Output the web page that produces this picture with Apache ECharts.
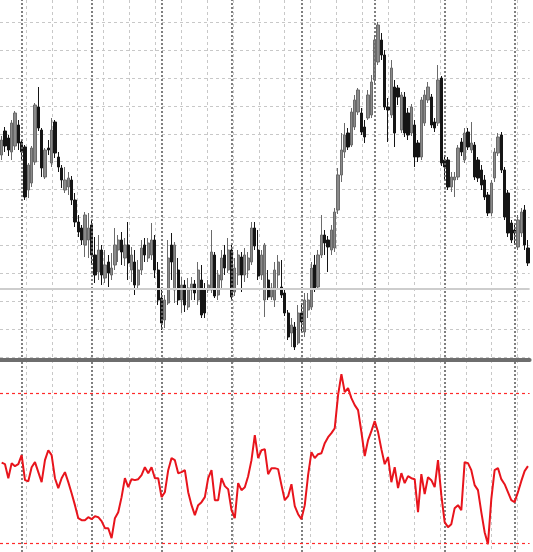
<!DOCTYPE html>
<html><head><meta charset="utf-8">
<script src="https://cdn.jsdelivr.net/npm/echarts@6/dist/echarts.min.js"></script>
<style>html,body{margin:0;padding:0;background:#fff;overflow:hidden}#c{width:533px;height:552px}</style>
</head><body><div id="c"></div>
<script>
// price panel (OHLC per bar)
const open=[202,226,219,205,211,232,215,210,167,174,
195,250,227,180,209,194,235,200,189,167,
170,177,157,135,129,112,117,132,102,85,
107,79,95,82,92,107,117,99,112,87,
95,72,87,112,99,102,117,87,59,37,
54,112,67,87,57,72,50,67,73,57,
77,67,67,67,102,62,77,102,87,107,
65,82,100,82,87,95,129,107,82,57,
77,60,57,82,70,64,44,24,30,14,
44,25,47,50,92,70,102,122,117,107,
109,147,182,205,224,212,230,245,244,230,
239,242,277,295,317,302,250,242,270,269,
227,260,244,224,232,214,200,234,257,260,
235,234,279,197,197,170,177,180,215,197,
225,207,212,197,187,177,162,144,179,204,
222,187,164,134,127,110,124,147,109];
const close=[217,211,207,234,244,214,205,160,192,209,
252,229,189,207,207,227,204,190,177,177,
179,157,135,125,117,142,129,102,82,107,
82,92,84,89,112,117,105,112,94,102,
72,87,109,102,114,117,87,57,34,57,
99,95,112,57,72,52,69,73,64,87,
42,44,72,105,61,82,99,89,107,60,
89,102,82,102,99,129,111,81,102,112,
60,69,87,95,62,44,20,32,10,44,
35,57,57,89,69,102,122,114,110,127,
145,182,207,222,210,245,257,267,225,220,
262,275,317,332,302,250,247,289,224,260,
262,224,222,250,200,200,257,262,270,232,
229,277,194,190,170,180,180,209,205,224,
210,214,180,179,172,160,144,174,205,220,
187,140,124,117,124,137,145,112,94];
const low=[197,205,201,197,207,207,197,157,159,170,
192,226,180,178,202,190,199,185,169,164,
162,152,130,120,112,100,99,92,74,77,
72,74,70,77,87,95,92,91,77,75,
62,67,82,95,95,97,79,52,27,29,
52,77,54,52,44,45,47,57,57,52,
39,39,64,64,59,57,67,82,84,57,
61,72,65,75,79,92,107,77,77,40,
57,57,50,67,59,41,17,10,7,12,
25,20,39,47,65,67,99,102,85,102,
105,143,175,199,207,210,227,242,222,214,
237,239,272,292,297,247,215,239,210,252,
224,220,217,221,190,195,197,231,254,229,
225,231,191,177,167,165,160,177,201,194,
207,204,177,175,167,157,141,141,175,201,
184,137,120,114,112,107,120,107,91];
const high=[221,230,222,237,246,237,217,212,194,211,
254,270,229,209,217,239,237,205,192,190,
185,181,164,142,132,145,144,137,120,122,
112,107,102,104,129,122,125,119,135,110,
107,97,117,119,119,134,122,95,67,62,
117,124,115,99,80,77,79,80,77,95,
92,74,77,127,105,87,107,112,119,112,
99,107,105,109,105,135,135,127,107,114,
87,74,95,102,97,69,47,39,35,52,
54,64,64,95,102,107,142,127,121,132,
149,189,224,234,229,249,262,269,249,237,
267,282,322,335,324,307,259,297,277,272,
265,265,249,253,237,217,260,267,275,263,
239,292,281,202,200,185,185,212,219,229,
229,235,215,200,192,182,165,177,209,224,
225,190,167,137,132,142,149,152,117];
// oscillator panel
const osc=[7.3,5.3,-13.4,6.7,2.7,5.3,17.4,-16.0,-17.4,1.3,
8.0,-5.3,-18.7,10.7,24.0,17.4,-13.4,-26.7,-13.4,-5.3,
-18.7,-33.4,-49.4,-66.8,-69.5,-69.5,-65.5,-68.1,-64.1,-65.5,
-70.8,-80.2,-80.2,-93.5,-66.8,-58.8,-38.7,-13.4,-25.4,-14.7,
-16.0,-14.7,-9.4,1.3,-6.7,1.3,-13.4,-13.4,-38.7,-32.1,
-2.7,13.4,10.7,-6.7,-5.3,-2.7,-32.1,-49.4,-62.8,-49.4,
-45.4,-38.7,-13.4,-2.7,-42.8,-42.8,-13.4,-24.0,-28.1,-56.1,
-66.8,-20.0,-29.4,-25.4,-10.7,10.7,44.1,13.4,24.0,25.4,
-8.0,0,0,-1.3,-22.7,-42.8,-37.4,-21.4,-50.8,-61.5,
-68.1,-49.4,-9.4,21.4,13.4,18.7,20.0,33.4,41.4,46.8,
53.4,97.5,125.6,101.5,106.9,93.5,84.2,77.5,48.3,16.2,
37.4,49.4,62.8,48.1,25.4,5.3,14.7,-18.7,1.3,-26.7,
-6.7,-20.0,-10.7,-13.4,-14.7,-58.8,-8.0,-34.7,-12.0,-16.0,
-25.4,10.7,-36.1,-72.1,-78.8,-74.8,-53.4,-49.4,-56.1,8.0,
6.7,-2.7,-22.7,-29.4,-58.8,-85.5,-101.5,-41.4,-2.7,0,
-14.7,-21.4,-32.1,-42.8,-45.4,-32.1,-17.4,-4.0,2.7];
const oscLevels=[100,-100];
const periodSeparators=[6,27,48,69,90,112,133,154];
const priceLine=68.7;

const categories=open.map((_,i)=>String(i));
const candles=open.map((o,i)=>[o,close[i],low[i],high[i]]);

const sepItems=()=>periodSeparators.map(i=>({xAxis:categories[i],lineStyle:{color:'#6a6a6a',type:[2,2],width:1.7}}));
const hidden={axisLine:{show:false},axisTick:{show:false},axisLabel:{show:false}};

const chart=echarts.init(document.getElementById('c'),null,{renderer:'canvas'});
chart.setOption({
  animation:false,
  backgroundColor:'#ffffff',
  grid:[
    {left:0,top:0,width:529.6,height:357},
    {left:0,top:360,width:529.6,height:192},
    {left:-1.45,top:0,width:534.45,height:552}
  ],
  xAxis:[
    Object.assign({type:'category',gridIndex:0,data:categories,boundaryGap:true,splitLine:{show:false}},hidden),
    {type:'category',gridIndex:1,data:categories,boundaryGap:true,position:'top',
     axisLine:{show:true,onZero:false,lineStyle:{color:'#6e6e6e',width:4}},
     axisTick:{show:false},axisLabel:{show:false},splitLine:{show:false}},
    Object.assign({type:'value',gridIndex:2,min:0,max:534.45,interval:25.95,
     splitLine:{show:true,showMinLine:false,showMaxLine:false,lineStyle:{color:'#c8c8c8',type:[3,3],width:1}}},hidden)
  ],
  yAxis:[
    Object.assign({type:'value',gridIndex:0,min:0,max:357,interval:27.9,
     splitLine:{show:true,showMaxLine:false,lineStyle:{color:'#c8c8c8',type:[3,3],width:1}}},hidden),
    Object.assign({type:'value',gridIndex:1,min:-112,max:144.5,splitLine:{show:false}},hidden),
    {type:'value',gridIndex:2,min:0,max:1,show:false,splitLine:{show:false}}
  ],
  series:[
    {type:'candlestick',xAxisIndex:0,yAxisIndex:0,data:candles,barWidth:2.7,
     itemStyle:{color:'#8a8a8a',color0:'#151515',borderColor:'#6a6a6a',borderColor0:'#151515',borderWidth:1},
     markLine:{silent:true,symbol:['none','none'],label:{show:false},animation:false,
       data:sepItems().concat([{yAxis:priceLine,lineStyle:{color:'#cdcdcd',type:'solid',width:2}}])}},
    {type:'line',xAxisIndex:1,yAxisIndex:1,data:osc,symbol:'none',showSymbol:false,
     lineStyle:{color:'#e8141c',width:2},
     markLine:{silent:true,symbol:['none','none'],label:{show:false},animation:false,z:1,
       data:sepItems()}},
    {type:'line',xAxisIndex:1,yAxisIndex:1,data:[],symbol:'none',silent:true,
     markLine:{silent:true,symbol:['none','none'],label:{show:false},animation:false,
       lineStyle:{color:'#ff2a2a',type:[3,3],width:1.2,opacity:1},
       data:oscLevels.map(v=>({yAxis:v,lineStyle:{color:'#ff2a2a',type:[3,3],width:1.2}}))}}
  ]
});
</script></body></html>
